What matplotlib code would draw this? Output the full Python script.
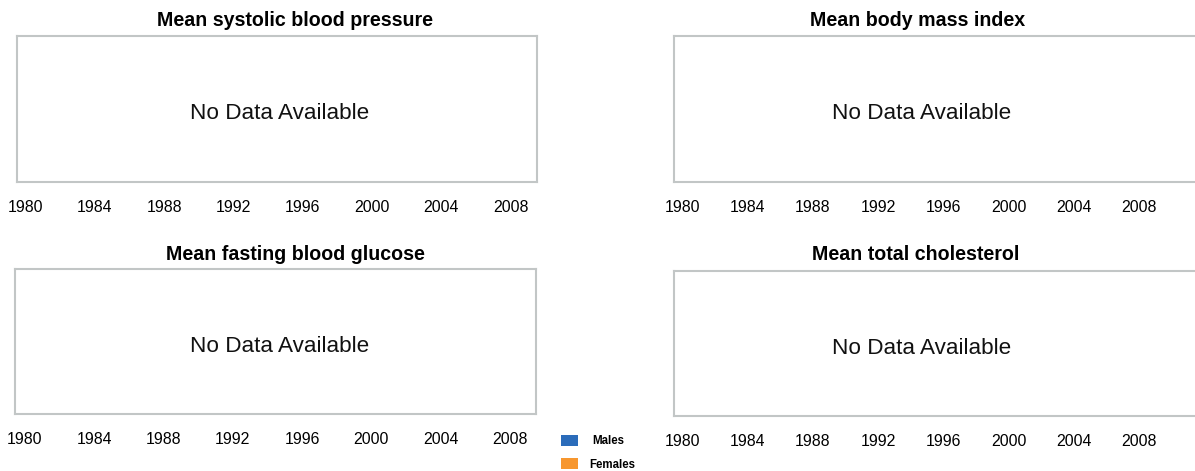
import matplotlib
matplotlib.use('Agg')
import matplotlib.pyplot as plt
from matplotlib.patches import Rectangle

plt.rcParams['font.family'] = ['Liberation Sans', 'DejaVu Sans']

# Chart content
years = [1980, 1984, 1988, 1992, 1996, 2000, 2004, 2008]
panel_titles = ['Mean systolic blood pressure', 'Mean body mass index',
                'Mean fasting blood glucose', 'Mean total cholesterol']
empty_message = 'No Data Available'
series_names = ['Males', 'Females']
series_colors = ['#2b6cba', '#f7972f']

W, H = 1195, 471
fig = plt.figure(figsize=(W / 100, H / 100), dpi=100)


def fx(px):
    return px / W


def fy(py):
    return 1 - py / H


# panel layout in pixels: box left/right/top/bottom, x of 1980 tick, px per year,
# title centre x, title baseline, message centre x, message baseline
layout = [
    (17, 537, 36, 182, 25.5, 17.33, 295, 26.5, 280, 119),
    (674, 1200, 36, 182, 682.5, 16.30, 918, 26.5, 922, 119),
    (15, 536, 269, 414, 24.8, 17.33, 295, 259.5, 280, 352),
    (674, 1200, 271, 416, 682.5, 16.30, 916, 260.5, 922, 354),
]

for title, (l, r, t, b, x0, ppy, tx, ty, mx, my) in zip(panel_titles, layout):
    ax = fig.add_axes([fx(l), fy(b), (r - l) / W, (b - t) / H])
    ax.set_xlim(years[0] + (l - x0) / ppy, years[0] + (r - x0) / ppy)
    ax.set_ylim(0, 1)
    ax.set_xticks(years)
    ax.set_xticklabels([str(y) for y in years])
    ax.set_yticks([])
    ax.tick_params(axis='x', length=0, pad=13, labelsize=11.4, colors='#000000')
    for s in ax.spines.values():
        s.set_color('#c2c6c6')
        s.set_linewidth(1.5)
    fig.text(fx(tx), fy(ty), title, ha='center', va='baseline',
             fontsize=14.1, fontweight='bold', color='#000000')
    fig.text(fx(mx), fy(my), empty_message, ha='center', va='baseline',
             fontsize=16.2, color='#111111')

# legend
legend_rows = [(435, 592, 444.5), (458, 589, 467.5)]
for name, color, (sq_top, lx, ly) in zip(series_names, series_colors, legend_rows):
    fig.patches.append(Rectangle((fx(561), fy(sq_top + 11)), 17 / W, 11 / H,
                                 transform=fig.transFigure, facecolor=color,
                                 edgecolor='none'))
    fig.text(fx(lx), fy(ly), name, ha='left', va='baseline',
             fontsize=8.3, fontweight='bold', color='#000000')

fig.savefig('out.png', dpi=100)
